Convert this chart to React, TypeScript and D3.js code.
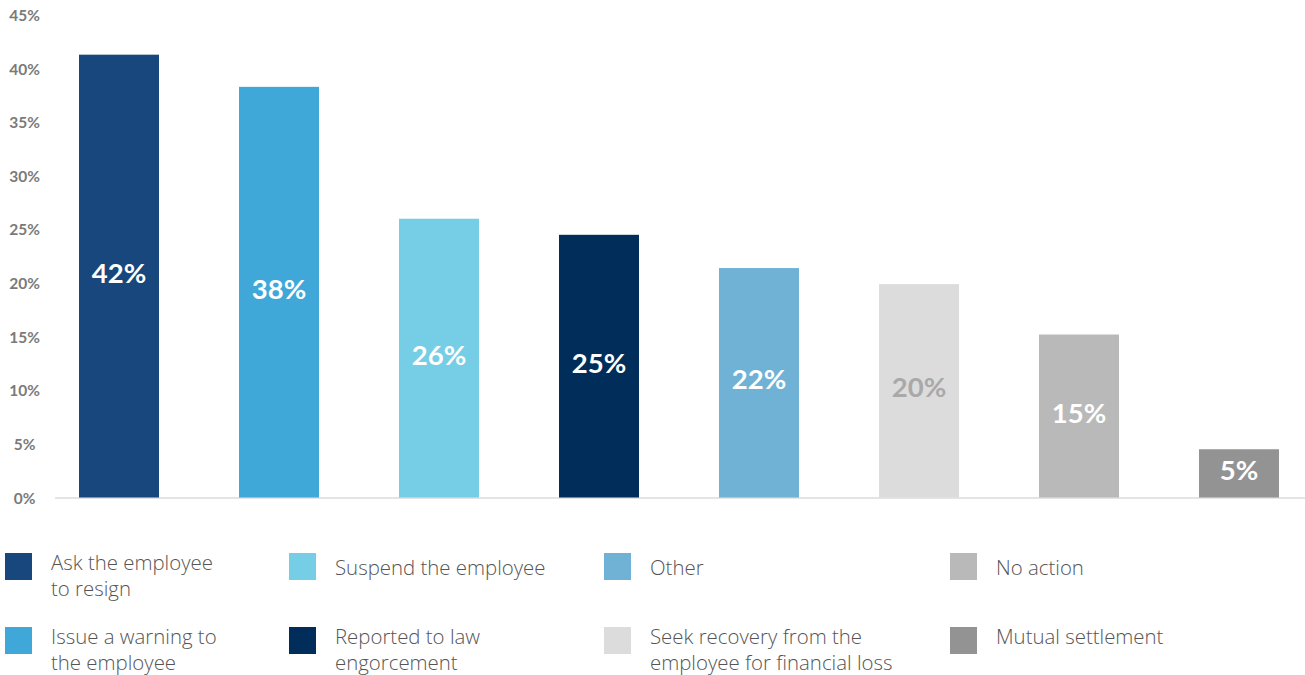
import React from "react";
import * as d3 from "d3";

const categories = [
  "Ask the employee to resign",
  "Issue a warning to the employee",
  "Suspend the employee",
  "Reported to law engorcement",
  "Other",
  "Seek recovery from the employee for financial loss",
  "No action",
  "Mutual settlement",
];
const values = [41.3, 38.3, 26.0, 24.5, 21.4, 19.9, 15.2, 4.5];
const valueLabels = ["42%", "38%", "26%", "25%", "22%", "20%", "15%", "5%"];
const colors = ["#17477c", "#3fa8d8", "#76cde6", "#002d5a", "#70b2d6", "#dcdcdc", "#b9b9b9", "#939393"];
const labelColors = ["#fff", "#fff", "#fff", "#fff", "#fff", "#a9a9a9", "#fff", "#fff"];
const yTicks = [0, 5, 10, 15, 20, 25, 30, 35, 40, 45];
const legendLines = [
  ["Ask the employee", "to resign"],
  ["Issue a warning to", "the employee"],
  ["Suspend the employee"],
  ["Reported to law", "engorcement"],
  ["Other"],
  ["Seek recovery from the", "employee for financial loss"],
  ["No action"],
  ["Mutual settlement"],
];

const W = 1305;
const H = 675;

export default function App() {
  const x = d3.scaleBand<string>().domain(categories).range([39, 1319]).paddingInner(0.5).paddingOuter(0.25);
  const y = d3.scaleLinear().domain([0, 45]).range([497.5, 15]);
  const colX = [5, 289, 604, 950];
  const rowY = [553, 627];
  return (
    <svg width={W} height={H} style={{ position: "absolute", left: 0, top: 0, background: "#fff" }}>
      {yTicks.map((t) => (
        <text key={t} x={24.5} y={y(t)} textAnchor="middle" dominantBaseline="central"
          fontFamily="Lato, 'Open Sans', sans-serif" fontWeight={700} fontSize={15.5} fill="#7a7a7a">
          {t}%
        </text>
      ))}
      <line x1={55} x2={1305} y1={y(0) + 0.5} y2={y(0) + 0.5} stroke="#e4e4e4" strokeWidth={2} />
      {categories.map((c, i) => (
        <g key={c}>
          <rect x={x(c)} y={y(values[i])} width={x.bandwidth()} height={y(0) - y(values[i])} fill={colors[i]} />
          <text x={(x(c) as number) + x.bandwidth() / 2} y={(y(values[i]) + y(0)) / 2 - 4}
            textAnchor="middle" dominantBaseline="central"
            fontFamily="Lato, 'Open Sans', sans-serif" fontWeight={700} fontSize={27.5} fill={labelColors[i]}>
            {valueLabels[i]}
          </text>
        </g>
      ))}
      {categories.map((c, i) => {
        const col = Math.floor(i / 2);
        const row = i % 2;
        const sx = colX[col];
        const sy = rowY[row];
        const lines = legendLines[i];
        const single = lines.length === 1 && row === 0;
        const firstY = single ? sy + 14 : sy + 9;
        return (
          <g key={"lg" + c}>
            <rect x={sx} y={sy} width={27} height={27} fill={colors[i]} />
            {lines.map((ln, k) => (
              <text key={k} x={sx + 46} y={firstY + k * 26} dominantBaseline="central"
                fontFamily="'Open Sans', Lato, sans-serif" fontWeight={300} fontSize={20.4} fill="#555">
                {ln}
              </text>
            ))}
          </g>
        );
      })}
    </svg>
  );
}
